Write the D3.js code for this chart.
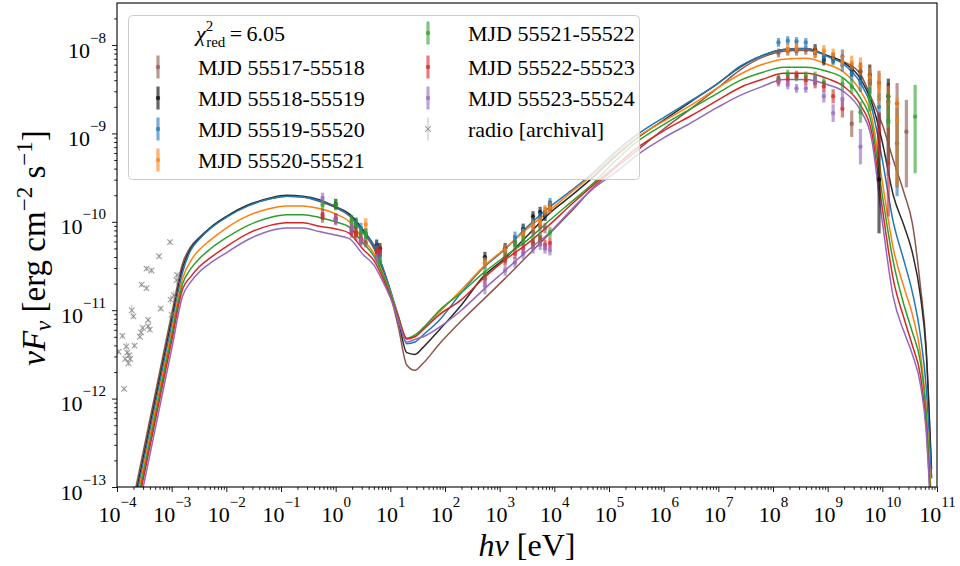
<!DOCTYPE html>
<html><head><meta charset="utf-8">
<script src="https://cdn.jsdelivr.net/npm/d3@7"></script>
<style>
body{margin:0;background:#fff}
svg{display:block}
text{font-family:"Liberation Serif","Times New Roman",serif;fill:#000}
</style>
</head><body>
<svg id="c" width="960" height="566"></svg>
<script>
// ---------------- DATA ----------------
const epochLabels = ["MJD 55517-55518","MJD 55518-55519","MJD 55519-55520","MJD 55520-55521","MJD 55521-55522","MJD 55522-55523","MJD 55523-55524"];
const chiLabel = "6.05";
const xTickExps = [-4,-3,-2,-1,0,1,2,3,4,5,6,7,8,9,10,11];
const yTickExps = [-13,-12,-11,-10,-9,-8];

// model grid: log10(h nu / eV)
const modelLogE = [-3.7,-3.5,-3.25,-3.0,-2.8,-2.65,-2.5,-2.3,-2.0,-1.6,-1.2,-0.9,-0.6,-0.3,0.0,0.25,0.5,0.7,0.85,1.0,1.15,1.3,1.45,1.6,1.9,2.3,2.7,3.1,3.5,3.9,4.3,4.7,5.1,5.5,6.0,6.5,7.0,7.4,7.8,8.2,8.6,9.0,9.3,9.6,9.8,10.0,10.2,10.4,10.55,10.7,10.8,10.9];
// model log10(nuFnu / erg cm^-2 s^-1), one per epoch
const model55517 = [-13.14,-12.54,-11.79,-11.04,-10.47,-10.28,-10.18,-10.07,-9.94,-9.81,-9.74,-9.71,-9.72,-9.77,-9.84,-9.93,-10.12,-10.30,-10.52,-10.82,-11.20,-11.62,-11.68,-11.60,-11.38,-11.12,-10.88,-10.64,-10.39,-10.14,-9.89,-9.62,-9.40,-9.20,-8.95,-8.72,-8.48,-8.28,-8.14,-8.07,-8.06,-8.12,-8.19,-8.33,-8.60,-8.90,-9.30,-9.68,-10.02,-10.75,-11.40,-12.90];
const model55518 = [-13.21,-12.61,-11.86,-11.11,-10.52,-10.30,-10.19,-10.07,-9.94,-9.81,-9.73,-9.70,-9.71,-9.75,-9.83,-9.91,-10.09,-10.27,-10.50,-10.78,-11.12,-11.48,-11.50,-11.42,-11.22,-10.94,-10.62,-10.41,-10.16,-9.91,-9.71,-9.50,-9.27,-9.06,-8.85,-8.64,-8.43,-8.25,-8.12,-8.05,-8.04,-8.12,-8.20,-8.38,-8.64,-9.10,-9.70,-10.05,-10.35,-10.85,-11.45,-12.80];
const model55519 = [-13.27,-12.67,-11.92,-11.17,-10.57,-10.32,-10.20,-10.08,-9.95,-9.82,-9.74,-9.71,-9.72,-9.76,-9.83,-9.93,-10.11,-10.27,-10.50,-10.77,-11.07,-11.38,-11.36,-11.28,-11.11,-10.80,-10.52,-10.31,-10.06,-9.84,-9.65,-9.45,-9.22,-9.02,-8.82,-8.63,-8.43,-8.24,-8.12,-8.05,-8.04,-8.13,-8.22,-8.43,-8.70,-9.30,-10.00,-10.45,-10.80,-11.30,-11.85,-12.90];
const model55520 = [-13.33,-12.73,-11.98,-11.23,-10.64,-10.44,-10.32,-10.21,-10.07,-9.93,-9.85,-9.82,-9.82,-9.85,-9.91,-10.00,-10.20,-10.36,-10.56,-10.80,-11.08,-11.33,-11.30,-11.21,-11.02,-10.77,-10.51,-10.30,-10.08,-9.88,-9.67,-9.47,-9.25,-9.05,-8.86,-8.68,-8.48,-8.33,-8.22,-8.16,-8.15,-8.22,-8.31,-8.52,-8.80,-9.55,-10.30,-10.75,-11.05,-11.50,-12.10,-13.20];
const model55521 = [-13.39,-12.79,-12.04,-11.29,-10.70,-10.53,-10.42,-10.31,-10.18,-10.04,-9.95,-9.92,-9.92,-9.95,-10.00,-10.06,-10.24,-10.39,-10.58,-10.81,-11.08,-11.32,-11.28,-11.20,-11.00,-10.80,-10.58,-10.39,-10.21,-9.99,-9.78,-9.57,-9.32,-9.10,-8.90,-8.72,-8.54,-8.40,-8.31,-8.25,-8.25,-8.30,-8.38,-8.60,-8.88,-9.70,-10.45,-10.95,-11.25,-11.60,-12.15,-13.30];
const model55522 = [-13.45,-12.85,-12.10,-11.35,-10.76,-10.62,-10.51,-10.41,-10.28,-10.13,-10.04,-10.01,-10.01,-10.05,-10.08,-10.13,-10.31,-10.44,-10.62,-10.84,-11.09,-11.32,-11.30,-11.22,-11.05,-10.88,-10.64,-10.43,-10.25,-10.04,-9.81,-9.59,-9.38,-9.17,-8.97,-8.80,-8.62,-8.48,-8.39,-8.32,-8.32,-8.38,-8.47,-8.68,-8.97,-9.85,-10.65,-11.10,-11.40,-11.75,-12.30,-13.40];
const model55523 = [-13.54,-12.94,-12.19,-11.44,-10.84,-10.68,-10.57,-10.47,-10.35,-10.20,-10.10,-10.07,-10.07,-10.11,-10.15,-10.19,-10.37,-10.49,-10.66,-10.86,-11.12,-11.36,-11.33,-11.30,-11.19,-11.00,-10.77,-10.55,-10.33,-10.13,-9.87,-9.63,-9.45,-9.25,-9.05,-8.88,-8.70,-8.57,-8.47,-8.39,-8.39,-8.45,-8.53,-8.74,-9.05,-10.00,-10.85,-11.25,-11.50,-11.85,-12.35,-13.50];

// observations: [log10 E, log10 nuFnu, err down (dex), err up (dex)]
const obs55517 = [[-0.24,-9.95,.06,.06],[0.0,-9.97,.06,.06],[0.29,-10.12,.06,.06],[0.37,-10.15,.06,.06],[0.46,-10.21,.06,.06],[0.55,-10.23,.06,.06],[0.75,-10.31,.06,.06],
 [3.28,-10.23,.06,.06],[3.43,-10.12,.06,.06],[3.61,-10.11,.06,.06],[3.74,-10.05,.06,.06],[3.83,-10.07,.06,.06],
 [8.10,-8.09,.05,.05],[8.27,-8.07,.05,.05],[8.43,-8.07,.05,.05],[8.60,-8.06,.05,.05],[8.77,-8.09,.06,.06],[9.27,-8.13,.08,.08],[9.44,-8.89,.15,.15],[9.77,-8.43,.12,.12],[9.94,-8.43,.20,.14],[10.11,-8.64,.32,.21],[10.27,-8.66,.95,.23],[10.44,-8.98,.63,.36]];
const obs55518 = [[0.0,-9.80,.06,.06],[0.37,-10.02,.06,.06],[0.75,-10.26,.06,.06],[0.81,-10.30,.06,.06],
 [2.73,-10.40,.06,.06],[3.10,-10.30,.06,.06],[3.43,-10.08,.06,.06],[3.61,-9.94,.06,.06],[3.74,-9.89,.06,.06],[3.83,-9.93,.06,.06],[3.92,-9.82,.06,.06],
 [8.77,-8.05,.06,.06],[8.93,-8.17,.06,.06],[9.10,-8.15,.06,.06],[9.44,-8.28,.08,.08],[9.60,-8.30,.10,.10],[9.77,-8.34,.12,.12],[9.94,-9.52,.61,.75],[10.11,-8.58,.30,.20]];
const obs55519 = [[0.37,-10.01,.06,.06],[0.46,-10.07,.06,.06],[0.55,-10.13,.06,.06],[0.75,-10.29,.06,.06],[0.81,-10.38,.06,.06],
 [2.73,-10.47,.06,.06],[3.10,-10.33,.06,.06],[3.28,-10.17,.06,.06],[3.43,-10.10,.06,.06],[3.61,-10.01,.06,.06],[3.74,-9.95,.06,.06],[3.83,-9.89,.06,.06],[3.92,-9.79,.06,.06],
 [8.10,-7.97,.05,.05],[8.27,-7.95,.05,.05],[8.43,-7.96,.05,.05],[8.60,-7.97,.05,.05],[8.93,-8.13,.06,.06],[9.10,-8.17,.06,.06],[9.27,-8.23,.07,.07],[9.44,-8.32,.08,.08],[9.60,-8.43,.10,.10],[9.77,-8.40,.15,.12],[9.94,-8.70,.20,.15],[10.11,-8.88,.60,.25],[10.27,-9.11,.60,.40]];
const obs55520 = [[0.29,-10.02,.06,.06],[0.55,-10.03,.07,.07],
 [2.73,-10.46,.06,.06],[3.10,-10.32,.06,.06],[3.43,-10.14,.06,.06],[3.61,-10.04,.06,.06],[3.74,-10.00,.06,.06],[3.83,-9.87,.06,.06],[3.92,-9.84,.06,.06],
 [8.27,-8.04,.05,.05],[8.43,-8.03,.05,.05],[8.77,-8.08,.06,.06],[8.93,-8.06,.06,.06],[9.10,-8.10,.06,.06],[9.27,-8.19,.07,.07],[9.44,-8.20,.08,.08],[9.60,-8.24,.10,.10],[9.77,-8.36,.12,.10],[9.94,-8.47,.20,.15],[10.11,-8.66,.30,.20],[10.27,-8.85,.75,.25]];
const obs55521 = [[-0.24,-9.81,.06,.06],[0.0,-9.81,.06,.06],[0.29,-9.98,.06,.06],[0.37,-10.04,.06,.06],[0.46,-10.12,.06,.06],[0.55,-10.14,.06,.06],[0.81,-10.45,.06,.06],
 [2.73,-10.58,.06,.06],[3.10,-10.41,.06,.06],[3.28,-10.26,.06,.06],[3.43,-10.21,.06,.06],[3.61,-10.23,.06,.06],[3.74,-10.17,.06,.06],[3.92,-10.12,.06,.06],
 [8.10,-8.38,.05,.05],[8.27,-8.33,.05,.05],[8.43,-8.36,.05,.05],[8.60,-8.35,.05,.05],[8.77,-8.36,.06,.06],[8.93,-8.42,.06,.06],[9.27,-8.44,.07,.07],[9.44,-8.47,.08,.08],[9.60,-8.76,.12,.12],[9.77,-8.60,.15,.12],[10.11,-8.85,.50,.30],[10.60,-8.81,.64,.36]];
const obs55522 = [[-0.24,-9.92,.06,.06],[0.0,-9.96,.06,.06],[0.29,-10.09,.06,.06],[0.37,-10.12,.06,.06],[0.46,-10.19,.06,.06],[0.75,-10.34,.06,.06],[0.81,-10.33,.06,.06],
 [2.73,-10.64,.06,.06],[3.10,-10.43,.06,.06],[3.28,-10.36,.06,.06],[3.43,-10.30,.06,.06],[3.61,-10.25,.06,.06],[3.74,-10.21,.06,.06],[3.83,-10.26,.06,.06],[3.92,-10.24,.06,.06],
 [8.10,-8.40,.05,.05],[8.27,-8.39,.05,.05],[8.43,-8.34,.05,.05],[8.60,-8.40,.05,.05],[8.77,-8.43,.06,.06],[8.93,-8.47,.06,.06],[9.10,-8.58,.08,.08],[9.27,-8.72,.10,.10],[9.94,-8.96,.30,.20],[10.11,-9.34,.60,.40]];
const obs55523 = [[-0.24,-9.73,.06,.06],[0.0,-9.98,.06,.06],[0.29,-10.07,.06,.06],[0.46,-10.21,.06,.06],[0.75,-10.42,.06,.06],
 [2.73,-10.72,.10,.10],[3.10,-10.55,.06,.06],[3.28,-10.46,.06,.06],[3.43,-10.36,.06,.06],[3.61,-10.30,.06,.06],[3.74,-10.26,.06,.06],[3.83,-10.30,.06,.06],[3.92,-10.32,.06,.06],
 [8.10,-8.42,.05,.05],[8.27,-8.45,.05,.05],[8.43,-8.49,.05,.05],[8.60,-8.49,.05,.05],[8.77,-8.40,.06,.06],[8.93,-8.58,.07,.07],[9.10,-8.77,.10,.10],[9.27,-8.61,.10,.10],[9.60,-9.15,.20,.20]];
// archival radio: [log10 E, log10 nuFnu, err (dex)]
const radioObs = [[-3.97,-11.47,.03],[-3.90,-11.29,.03],[-3.87,-11.89,.03],[-3.85,-11.55,.03],[-3.83,-11.41,.05],[-3.81,-11.48,.03],[-3.79,-11.60,.03],[-3.78,-11.51,.03],[-3.76,-11.55,.03],[-3.73,-11.00,.06],[-3.70,-11.07,.03],[-3.68,-11.40,.03],[-3.58,-11.30,.03],[-3.56,-11.25,.03],[-3.55,-10.71,.03],[-3.53,-11.20,.03],[-3.46,-10.75,.03],[-3.46,-10.53,.03],[-3.43,-11.11,.03],[-3.43,-11.18,.03],[-3.40,-11.22,.03],[-3.37,-10.55,.03],[-3.23,-10.39,.03],[-3.20,-10.98,.03],[-3.03,-10.23,.03],[-3.02,-10.88,.05],[-3.00,-11.05,.03],[-2.96,-10.83,.05],[-2.91,-10.66,.05],[-2.90,-10.60,.03]];

const curveColors = ["#8c564b","#2b2b2b","#1f77b4","#ff7f0e","#2ca02c","#d62728","#9467bd"];
const barColors   = ["#8c564b","#000000","#1f77b4","#ff7f0e","#2ca02c","#d62728","#9467bd"];
const models = [model55517,model55518,model55519,model55520,model55521,model55522,model55523];
const observations = [obs55517,obs55518,obs55519,obs55520,obs55521,obs55522,obs55523];

// ---------------- DRAW ----------------
const svg = d3.select("#c");
const L=117, R=937, T=3, B=487;
const x = d3.scaleLog().domain([1e-4,1e11]).range([L,R]);
const y = d3.scaleLog().domain([1e-13,2.99e-8]).range([B,T]);

svg.append("defs").append("clipPath").attr("id","clip")
  .append("rect").attr("x",L).attr("y",T).attr("width",R-L).attr("height",B-T);

const plot = svg.append("g").attr("clip-path","url(#clip)");

// model curves
const line = d3.line().x(d=>x(d[0])).y(d=>y(d[1])).curve(d3.curveMonotoneX);
models.forEach((m,i)=>{
  const pts = modelLogE.map((e,j)=>[Math.pow(10,e), Math.pow(10,m[j])]);
  plot.append("path").datum(pts).attr("d",line)
    .attr("fill","none").attr("stroke",curveColors[i]).attr("stroke-width",1.5);
});

// radio archival
const rg = plot.append("g");
radioObs.forEach(d=>{
  const cx = x(Math.pow(10,d[0])), cy = y(Math.pow(10,d[1]));
  rg.append("line").attr("x1",cx).attr("x2",cx)
    .attr("y1",y(Math.pow(10,d[1]-d[2]))).attr("y2",y(Math.pow(10,d[1]+d[2])))
    .attr("stroke","#808080").attr("stroke-width",1).attr("opacity",0.5);
  const s=2.8;
  rg.append("path").attr("d",`M${cx-s},${cy-s}L${cx+s},${cy+s}M${cx-s},${cy+s}L${cx+s},${cy-s}`)
    .attr("stroke","#808080").attr("stroke-width",1.1).attr("opacity",0.75);
});

// epoch data points
observations.forEach((obs,i)=>{
  const g = plot.append("g");
  obs.forEach(d=>{
    const cx = x(Math.pow(10,d[0]));
    g.append("line").attr("x1",cx).attr("x2",cx)
      .attr("y1",y(Math.pow(10,d[1]-d[2]))).attr("y2",y(Math.pow(10,d[1]+d[3])))
      .attr("stroke",barColors[i]).attr("stroke-width",3.2).attr("opacity",0.6);
    g.append("circle").attr("cx",cx).attr("cy",y(Math.pow(10,d[1]))).attr("r",2.2)
      .attr("fill",barColors[i]).attr("opacity",0.7);
  });
});

// axes
function supLabel(sel, exp){
  sel.append("tspan").text("10");
  sel.append("tspan").attr("dy",-15).attr("font-size",15)
     .text(exp<0 ? "\u2212"+(-exp) : String(exp));
}
const xMinor=[], yMinor=[];
for(let e=-4;e<11;e++) for(let k=2;k<10;k++) xMinor.push(k*Math.pow(10,e));
for(let e=-13;e<-7;e++) for(let k=2;k<10;k++){const v=k*Math.pow(10,e); if(v<=2.99e-8) yMinor.push(v);}

const gx = svg.append("g").attr("transform",`translate(0,${B})`);
gx.call(d3.axisBottom(x).tickValues(xMinor).tickSize(2.8).tickFormat(()=>""));
const gxM = svg.append("g").attr("transform",`translate(0,${B})`);
gxM.call(d3.axisBottom(x).tickValues(xTickExps.map(e=>Math.pow(10,e))).tickSize(5).tickFormat(()=>""));
gxM.selectAll(".tick").each(function(d){
  const e = Math.round(Math.log10(d));
  const t = d3.select(this).append("text").attr("y",35).attr("text-anchor","middle")
    .attr("font-size",22).attr("fill","#000");
  supLabel(t,e);
});
const gy = svg.append("g").attr("transform",`translate(${L},0)`);
gy.call(d3.axisLeft(y).tickValues(yMinor).tickSize(2.8).tickFormat(()=>""));
const gyM = svg.append("g").attr("transform",`translate(${L},0)`);
gyM.call(d3.axisLeft(y).tickValues(yTickExps.map(e=>Math.pow(10,e))).tickSize(5).tickFormat(()=>""));
gyM.selectAll(".tick").each(function(d){
  const e = Math.round(Math.log10(d));
  const t = d3.select(this).append("text").attr("x",-11).attr("y",12).attr("text-anchor","end")
    .attr("font-size",22).attr("fill","#000");
  supLabel(t,e);
});
svg.selectAll(".domain").remove();
svg.selectAll(".tick line").attr("stroke","#000").attr("stroke-width",0.9);
svg.append("rect").attr("x",L).attr("y",T).attr("width",R-L).attr("height",B-T)
  .attr("fill","none").attr("stroke","#000").attr("stroke-width",1.1);

// axis labels
const xl = svg.append("text").attr("x",(L+R)/2).attr("y",556).attr("text-anchor","middle").attr("font-size",32);
xl.append("tspan").attr("font-style","italic").text("h\u03bd");
xl.append("tspan").text(" [eV]");
const yl = svg.append("text").attr("transform",`translate(45,${(T+B)/2+3}) rotate(-90)`).attr("text-anchor","middle").attr("font-size",33);
yl.append("tspan").attr("font-style","italic").text("\u03bdF");
yl.append("tspan").attr("font-style","italic").attr("font-size",23).attr("dy",6).text("\u03bd");
yl.append("tspan").attr("dy",-6).text(" [erg cm");
yl.append("tspan").attr("font-size",23).attr("dy",-13).text("\u22122");
yl.append("tspan").attr("dy",13).text(" s");
yl.append("tspan").attr("font-size",23).attr("dy",-13).text("\u22121");
yl.append("tspan").attr("dy",13).text("]");

// legend
const lg = svg.append("g");
lg.append("rect").attr("x",128.5).attr("y",15.5).attr("width",511).attr("height",164).attr("rx",4)
  .attr("fill","#fff").attr("fill-opacity",0.8).attr("stroke","#cccccc").attr("stroke-width",1);
const chi = lg.append("text").attr("x",196).attr("y",41).attr("font-size",22);
chi.append("tspan").attr("font-style","italic").text("\u03c7");
chi.append("tspan").attr("font-size",15).attr("dy",-10).text("2");
chi.append("tspan").attr("font-size",15).attr("dx",-7).attr("dy",16).text("red");
chi.append("tspan").attr("dy",-6).text("\u2009=\u2009" + chiLabel);
const legPos = [[158,67],[158,98],[158,129],[158,160],[428,33],[428,67],[428,98]];
epochLabels.forEach((lab,i)=>{
  const [ix,iy]=legPos[i];
  lg.append("line").attr("x1",ix).attr("x2",ix).attr("y1",iy-11.5).attr("y2",iy+11.5)
    .attr("stroke",barColors[i]).attr("stroke-width",3.2).attr("opacity",0.6);
  lg.append("circle").attr("cx",ix).attr("cy",iy).attr("r",2.2).attr("fill",barColors[i]).attr("opacity",0.7);
  lg.append("text").attr("x",ix+40).attr("y",iy+7.5).attr("font-size",22).text(lab);
});
// radio legend entry
{
  const ix=428, iy=129, s=2.8;
  lg.append("line").attr("x1",ix).attr("x2",ix).attr("y1",iy-11.5).attr("y2",iy+11.5)
    .attr("stroke","#808080").attr("stroke-width",1).attr("opacity",0.5);
  lg.append("path").attr("d",`M${ix-s},${iy-s}L${ix+s},${iy+s}M${ix-s},${iy+s}L${ix+s},${iy-s}`)
    .attr("stroke","#808080").attr("stroke-width",1.1).attr("opacity",0.75);
  lg.append("text").attr("x",ix+40).attr("y",iy+7.5).attr("font-size",22).text("radio [archival]");
}
</script>
</body></html>
